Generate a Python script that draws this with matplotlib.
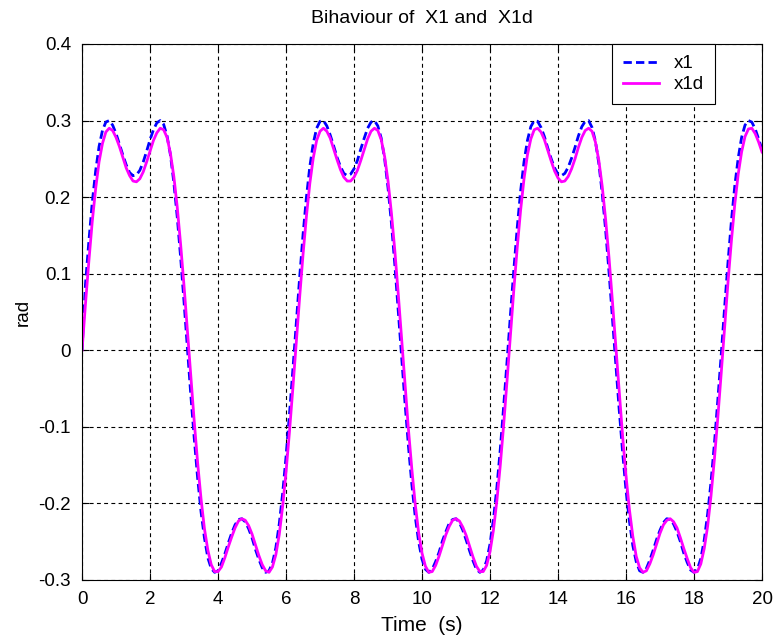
import numpy as np
import matplotlib
matplotlib.use("Agg")
import matplotlib.pyplot as plt

# sample times (s), 0.1 s step from 0 to 20
time = np.round(np.arange(0, 20.05, 0.1), 1)

# desired trajectory x1d, in mrad (one row = 2 s)
x1d_mrad = [
    0, 60, 116, 168, 211, 246, 270, 285, 290, 287, 278, 266, 252, 238, 228, 221, 220, 224, 233, 246,
    260, 274, 284, 290, 288, 278, 257, 227, 187, 138, 84, 25, -35, -93, -147, -194, -233, -261, -280, -289,
    -289, -283, -271, -257, -244, -232, -223, -220, -222, -229, -240, -254, -268, -280, -288, -290, -283, -267, -241, -204,
    -159, -107, -50, 10, 69, 125, 175, 218, 251, 274, 286, 290, 286, 277, 263, 249, 236, 226, 221, 221,
    226, 235, 248, 262, 276, 286, 290, 287, 275, 253, 221, 179, 130, 74, 15, -45, -103, -155, -201, -238,
    -265, -282, -290, -289, -281, -269, -255, -241, -230, -222, -220, -223, -231, -242, -256, -270, -282, -289, -289, -281,
    -263, -235, -197, -151, -98, -40, 20, 79, 134, 183, 224, 255, 276, 288, 290, 285, 275, 261, 247, 234,
    225, 220, 221, 227, 237, 250, 265, 278, 287, 290, 286, 272, 248, 214, 171, 121, 64, 5, -55, -112,
    -164, -208, -243, -269, -284, -290, -288, -279, -267, -253, -239, -228, -222, -220, -224, -232, -245, -259, -272, -284,
    -290, -289, -279, -259, -230, -190, -142, -88, -30, 30, 89, 143, 191, 230, 259, 279, 289, 290, 283, 272,
    259,
]

# actual state x1, in mrad
x1_mrad = [
    0, 86, 142, 193, 234, 266, 287, 298, 300, 294, 283, 269, 255, 242, 232, 228, 229, 235, 246, 260,
    275, 288, 297, 300, 295, 280, 255, 219, 174, 121, 63, 1, -59, -115, -167, -211, -245, -271, -285, -290,
    -288, -278, -266, -252, -239, -228, -221, -220, -224, -233, -245, -260, -273, -284, -290, -288, -278, -258, -227, -187,
    -139, -84, -26, 35, 95, 151, 200, 240, 270, 290, 299, 300, 293, 281, 267, 252, 240, 231, 228, 230,
    237, 248, 263, 277, 290, 298, 300, 293, 277, 250, 212, 166, 112, 52, -9, -69, -125, -175, -217, -250,
    -273, -286, -290, -286, -276, -264, -249, -237, -226, -221, -220, -225, -235, -248, -262, -275, -286, -290, -287, -275,
    -253, -221, -180, -130, -74, -15, 46, 105, 160, 208, 246, 274, 292, 300, 299, 291, 279, 264, 250, 238,
    230, 228, 231, 239, 251, 265, 280, 292, 299, 300, 291, 273, 244, 205, 157, 102, 42, -19, -78, -133,
    -183, -223, -255, -276, -288, -290, -285, -274, -261, -247, -235, -225, -220, -221, -227, -237, -250, -265, -277, -287,
    -290, -286, -272, -248, -214, -172, -122, -65, -6, 56, 115, 169, 215, 251, 278, 294, 300, 298, 289, 276,
    262,
]

xticks = [0, 2, 4, 6, 8, 10, 12, 14, 16, 18, 20]
yticks = [-0.3, -0.2, -0.1, 0, 0.1, 0.2, 0.3, 0.4]
ytick_labels = ["-0.3", "-0.2", "-0.1", "0", "0.1", "0.2", "0.3", "0.4"]

x1 = np.array(x1_mrad) / 1000.0
x1d = np.array(x1d_mrad) / 1000.0

plt.rcParams["font.family"] = ["Liberation Sans", "DejaVu Sans"]

fig = plt.figure(figsize=(7.74, 6.44), dpi=100)
ax = fig.add_axes([0.106, 0.0994, 0.8785, 0.8323])

ax.plot(time, x1, color="#0000ff", linestyle=(0, (3, 1.5)), linewidth=2, label="x1")
ax.plot(time, x1d, color="#ff00ff", linestyle="-", linewidth=2, label="x1d")

ax.set_xlim(0, 20)
ax.set_ylim(-0.3, 0.4)
ax.set_xticks(xticks)
ax.set_xticklabels([str(v) for v in xticks])
ax.set_yticks(yticks)
ax.set_yticklabels(ytick_labels)

# matlab-like box: dotted grid, inward ticks on all four sides
ax.grid(True, color="black", linestyle=(0, (3.5, 3)), linewidth=0.8)
ax.tick_params(direction="in", length=5, width=0.8, top=True, right=True,
               labelsize=13.5, pad=8)
for sp in ax.spines.values():
    sp.set_linewidth(0.8)

ax.set_title("Bihaviour of  X1 and  X1d", fontsize=14, pad=15)
ax.set_xlabel("Time  (s)", fontsize=15, labelpad=6)
ax.set_ylabel("rad", fontsize=13.5, labelpad=5)

leg = ax.legend(loc="upper right", bbox_to_anchor=(0.931, 1.0), borderaxespad=0,
                fancybox=False, edgecolor="black", framealpha=1, fontsize=13.5,
                handlelength=1.9, handletextpad=0.8, borderpad=0.6, labelspacing=0.2)
leg.get_frame().set_linewidth(0.8)

plt.savefig("out.png", dpi=100)
